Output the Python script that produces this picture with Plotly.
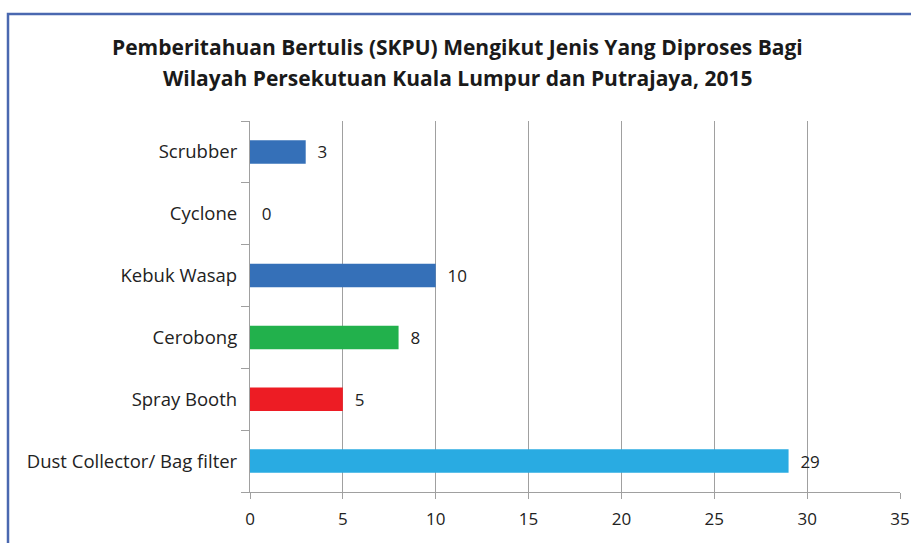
import plotly.graph_objects as go

categories = ["Dust Collector/ Bag filter", "Spray Booth", "Cerobong", "Kebuk Wasap", "Cyclone", "Scrubber"]
values = [29, 5, 8, 10, 0, 3]
colors = ["#29ABE2", "#ED1C24", "#22B14C", "#3570B8", "#3570B8", "#3570B8"]
x_ticks = [0, 5, 10, 15, 20, 25, 30, 35]
title_lines = ["Pemberitahuan Bertulis (SKPU) Mengikut Jenis Yang Diproses Bagi",
               "Wilayah Persekutuan Kuala Lumpur dan Putrajaya, 2015"]

FONT = "Open Sans, Liberation Sans, sans-serif"
W, H = 911, 543
ml, mr, mt, mb = 250, 11, 121, 51

fig = go.Figure()
fig.add_trace(go.Bar(
    y=categories, x=values, orientation="h",
    marker=dict(color=colors, line=dict(width=0)),
    text=["\u00a0\u00a0" + str(v) for v in values],
    textposition="outside", cliponaxis=False,
    textfont=dict(family=FONT, size=17, color="#222222"),
    width=0.38,
))

pw = W - ml - mr
ph = H - mt - mb
def px_x(p):
    return (p - ml) / pw
def px_y(p):
    return (H - mb - p) / ph

fig.add_shape(type="rect", xref="paper", yref="paper",
              x0=px_x(8), x1=px_x(918), y0=px_y(550), y1=px_y(14),
              line=dict(color="#4A68B0", width=2.5), layer="below")

for line, ypx in zip(title_lines, [47, 78]):
    fig.add_annotation(text="<b>" + line + "</b>", xref="paper", yref="paper",
                       x=px_x(457), y=px_y(ypx), xanchor="center", yanchor="middle",
                       showarrow=False,
                       font=dict(family=FONT, size=21, color="#1a1a1a"))

fig.update_layout(
    width=W, height=H,
    margin=dict(l=ml, r=mr, t=mt, b=mb, autoexpand=False),
    paper_bgcolor="white", plot_bgcolor="white",
    showlegend=False,
    xaxis=dict(range=[0, 35], tickvals=x_ticks, ticktext=[str(t) for t in x_ticks],
               showgrid=True, gridcolor="#A0A0A0", gridwidth=1.2,
               showline=True, linecolor="#A0A0A0", linewidth=1.2,
               ticks="outside", ticklen=6, tickcolor="#A0A0A0", ticklabelstandoff=5,
               tickfont=dict(family=FONT, size=17, color="#222222"),
               zeroline=False, fixedrange=True, automargin=False),
    yaxis=dict(categoryorder="array", categoryarray=categories,
               showline=True, linecolor="#A0A0A0", linewidth=1.2,
               ticks="outside", ticklen=8, tickcolor="#A0A0A0", tickson="boundaries",
               showgrid=False, ticklabelstandoff=8,
               tickfont=dict(family=FONT, size=18.5, color="#222222"),
               fixedrange=True, automargin=False),
    bargap=0.62,
)

fig.write_html("out.html", config={"displayModeBar": False},
               post_script="document.body.style.margin='0';")
